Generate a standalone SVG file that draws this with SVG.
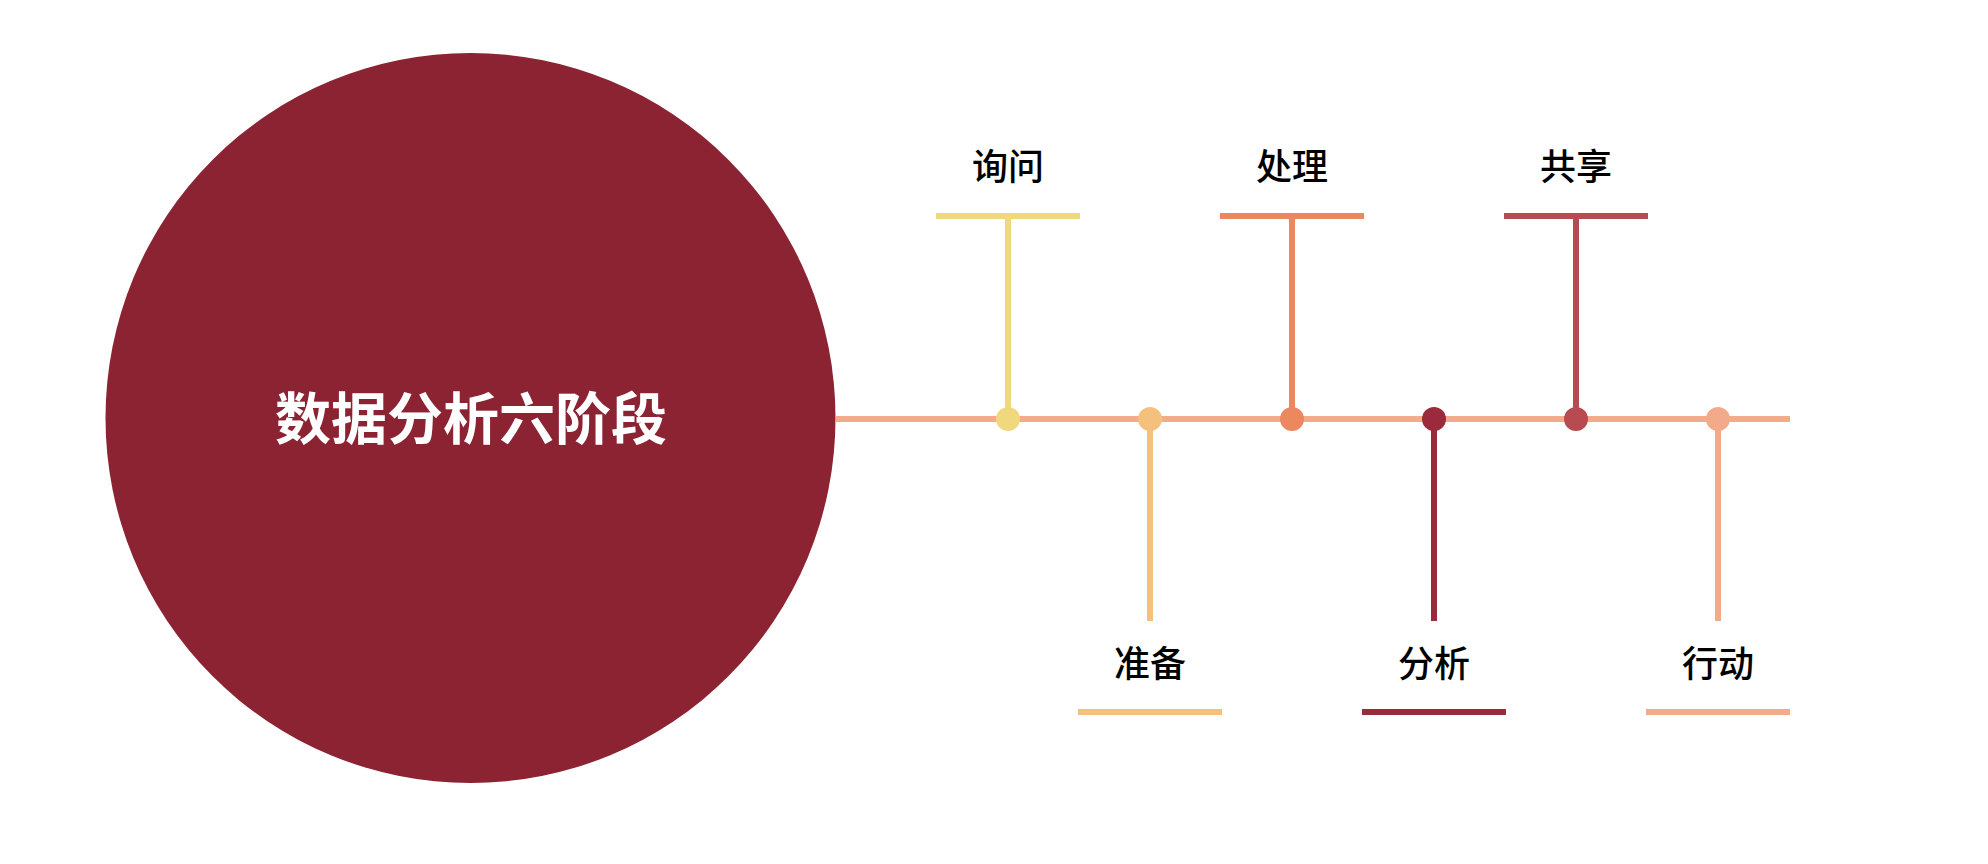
<svg xmlns="http://www.w3.org/2000/svg" width="1988" height="864" viewBox="0 0 1988 864">
<style>
.lbl{font-family:"Noto Sans CJK SC","Noto Sans",sans-serif;font-size:36px;font-weight:500;fill:#000;text-anchor:middle}
.title{font-family:"Noto Sans CJK SC","Noto Sans",sans-serif;font-size:56px;font-weight:700;fill:#fff;text-anchor:middle}
.ln{stroke-width:6;fill:none}
</style>
<rect width="1988" height="864" fill="#fff"/>
<g id="center">
<circle cx="470.5" cy="418" r="365" fill="#8B2332"/>
<text class="title" x="471" y="439">数据分析六阶段</text>
</g>
<g id="connectors">
<line class="ln" x1="836" y1="419" x2="1790" y2="419" stroke="#F4AA8C"/>
</g>
<g id="n1">
<line class="ln" x1="936" y1="216" x2="1080" y2="216" stroke="#F0D87C"/>
<line class="ln" x1="1008" y1="216" x2="1008" y2="419" stroke="#F0D87C"/>
<circle cx="1008" cy="419" r="12" fill="#F0D87C"/>
<text class="lbl" x="1008" y="180">询问</text>
</g>
<g id="n2">
<line class="ln" x1="1078" y1="712" x2="1222" y2="712" stroke="#F5C07C"/>
<line class="ln" x1="1150" y1="419" x2="1150" y2="621" stroke="#F5C07C"/>
<circle cx="1150" cy="419" r="12" fill="#F5C07C"/>
<text class="lbl" x="1150" y="677">准备</text>
</g>
<g id="n3">
<line class="ln" x1="1220" y1="216" x2="1364" y2="216" stroke="#EB8860"/>
<line class="ln" x1="1292" y1="216" x2="1292" y2="419" stroke="#EB8860"/>
<circle cx="1292" cy="419" r="12" fill="#EB8860"/>
<text class="lbl" x="1292" y="180">处理</text>
</g>
<g id="n4">
<line class="ln" x1="1362" y1="712" x2="1506" y2="712" stroke="#9A2A3C"/>
<line class="ln" x1="1434" y1="419" x2="1434" y2="621" stroke="#9A2A3C"/>
<circle cx="1434" cy="419" r="12" fill="#9A2A3C"/>
<text class="lbl" x="1434" y="677">分析</text>
</g>
<g id="n5">
<line class="ln" x1="1504" y1="216" x2="1648" y2="216" stroke="#B84A51"/>
<line class="ln" x1="1576" y1="216" x2="1576" y2="419" stroke="#B84A51"/>
<circle cx="1576" cy="419" r="12" fill="#B84A51"/>
<text class="lbl" x="1576" y="180">共享</text>
</g>
<g id="n6">
<line class="ln" x1="1646" y1="712" x2="1790" y2="712" stroke="#F3AA8A"/>
<line class="ln" x1="1718" y1="419" x2="1718" y2="621" stroke="#F3AA8A"/>
<circle cx="1718" cy="419" r="12" fill="#F3AA8A"/>
<text class="lbl" x="1718" y="677">行动</text>
</g>
</svg>
